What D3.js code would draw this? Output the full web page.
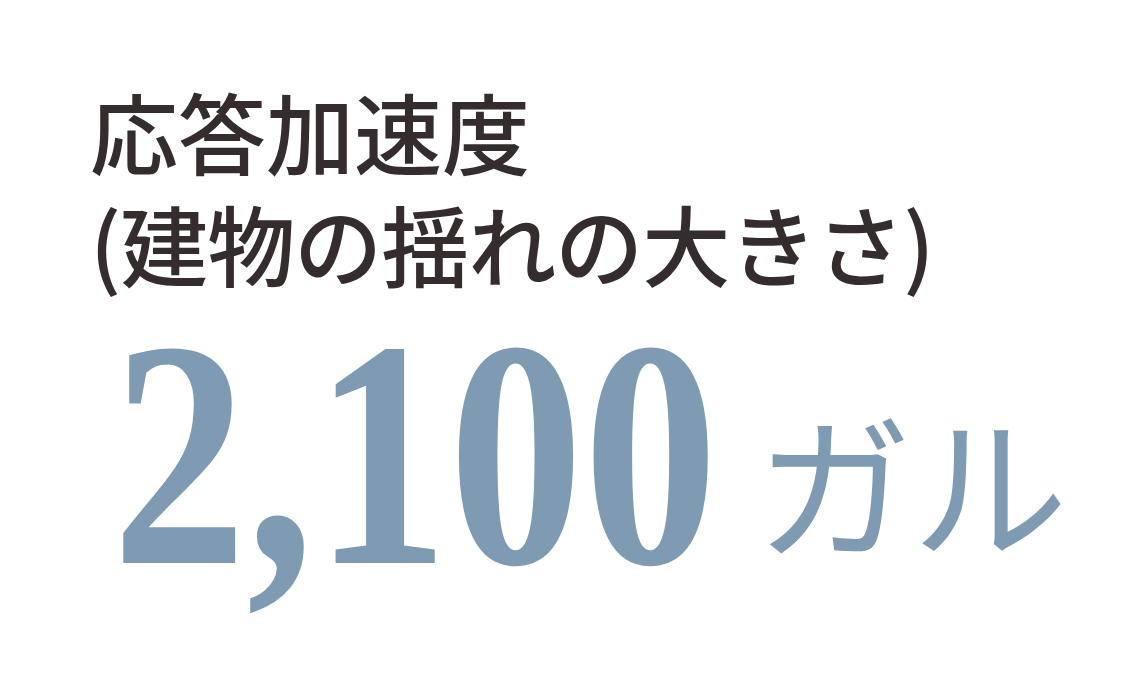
<!DOCTYPE html>
<html>
<head>
<meta charset="utf-8">
<script src="https://cdn.jsdelivr.net/npm/d3@7"></script>
<style>
  html, body { margin: 0; padding: 0; background: #fff; }
</style>
</head>
<body>
<div id="chart"></div>
<script>
// text content of the figure
const titleLines = ["応答加速度", "(建物の揺れの大きさ)"];
const values = [2100];
const units = ["ガル"];

var w = 1141;
var h = 679;

var svg = d3.select("#chart")
    .append("svg")
    .attr("width", w)
    .attr("height", h);

// title, two lines in one text block
var title = svg.append("text")
    .attr("class", "title")
    .attr("font-family", "'Noto Sans CJK JP', sans-serif")
    .attr("font-size", 88)
    .attr("font-weight", 500)
    .attr("fill", "#352d2d");

title.selectAll("tspan")
    .data(titleLines)
    .enter()
    .append("tspan")
    .attr("x", 90)
    .attr("y", function (d, i) { return 168 + i * 112; })
    .attr("letter-spacing", function (d, i) { return i ? -1 : 0; })
    .text(function (d) { return d; });

// the big value, squeezed horizontally to the condensed look
var fmt = d3.format(",");
var num = svg.selectAll("text.value")
    .data(values)
    .enter()
    .append("text")
    .attr("class", "value")
    .attr("x", 0)
    .attr("y", 0)
    .attr("font-family", "'Liberation Serif', 'DejaVu Serif', serif")
    .attr("font-size", 324)
    .attr("font-weight", "bold")
    .attr("fill", "#7e9bb3")
    .text(function (d) { return fmt(d); });

var natural = num.node().getComputedTextLength();
var sx = 606 / natural;
num.attr("transform", "translate(112,563) scale(" + sx + ",1)");

// unit
svg.selectAll("text.unit")
    .data(units)
    .enter()
    .append("text")
    .attr("class", "unit")
    .attr("x", 756)
    .attr("y", 547)
    .attr("font-family", "'Noto Sans CJK JP', sans-serif")
    .attr("font-size", 156)
    .attr("font-weight", 400)
    .attr("fill", "#7e9bb3")
    .text(function (d) { return d; });
</script>
</body>
</html>
